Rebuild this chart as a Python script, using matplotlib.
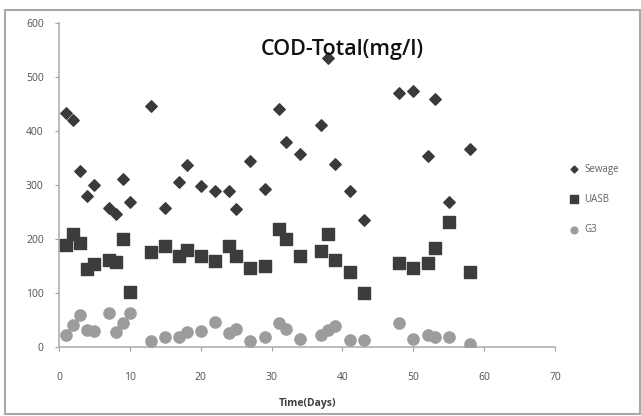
import matplotlib.pyplot as plt
from matplotlib.patches import Rectangle

# data
sewage_days = [1, 2, 3, 4, 5, 7, 8, 9, 10, 13, 15, 17, 18, 20, 22, 24, 25, 27, 29, 31, 32, 34, 37, 38,
               39, 41, 43, 48, 50, 52, 53, 55, 58]
sewage_cod = [434, 420, 326, 280, 299, 257, 246, 311, 268, 446, 257, 306, 336, 298, 289, 289, 255, 344,
              293, 441, 379, 357, 411, 535, 338, 289, 235, 470, 473, 354, 459, 269, 367]

uasb_days = [1, 2, 3, 4, 5, 7, 8, 9, 10, 13, 15, 17, 18, 20, 22, 24, 25, 27, 29, 31, 32, 34, 37, 38,
             39, 41, 43, 48, 50, 52, 53, 55, 58]
uasb_cod = [188, 210, 193, 144, 153, 161, 158, 199, 101, 175, 186, 169, 180, 169, 159, 187, 169, 146,
            150, 218, 200, 169, 178, 210, 161, 138, 99, 155, 146, 156, 183, 231, 138]

g3_days = [1, 2, 3, 4, 5, 7, 8, 9, 10, 13, 15, 17, 18, 20, 22, 24, 25, 27, 29, 31, 32, 34, 37, 38,
           39, 41, 43, 48, 50, 52, 53, 55, 58]
g3_cod = [22, 41, 59, 31, 30, 62, 27, 44, 62, 11, 19, 19, 27, 30, 46, 25, 33, 11, 19, 45, 33, 15, 22,
          31, 38, 13, 13, 44, 14, 22, 19, 19, 6]

x_ticks = [0, 10, 20, 30, 40, 50, 60, 70]
y_ticks = [0, 100, 200, 300, 400, 500, 600]

plt.rcParams['font.family'] = ['Open Sans', 'DejaVu Sans']

fig = plt.figure(figsize=(6.41, 4.16), dpi=100)
ax = fig.add_axes([0.092, 0.166, 0.774, 0.779])

ax.scatter(sewage_days, sewage_cod, marker='D', s=34, color='#3a3a3a', label='Sewage', zorder=3)
ax.scatter(uasb_days, uasb_cod, marker='s', s=78, color='#3c3c3c', label='UASB', zorder=3)
ax.scatter(g3_days, g3_cod, marker='o', s=65, color='#9c9c9c', label='G3', zorder=3)

ax.set_xlim(0, 70)
ax.set_ylim(0, 600)
ax.set_xticks(x_ticks)
ax.set_yticks(y_ticks)
ax.tick_params(colors='#a0a0a0', labelcolor='#505050', labelsize=7.5, length=3, direction='out')
ax.tick_params(axis='x', pad=15)
ax.tick_params(axis='y', pad=8)
for side in ['top', 'right']:
	ax.spines[side].set_visible(False)
for side in ['left', 'bottom']:
	ax.spines[side].set_color('#b0b0b0')
	ax.spines[side].set_linewidth(1.2)

ax.set_xlabel('Time(Days)', fontsize=7.5, fontweight='bold', color='#404040', labelpad=11)
fig.text(0.534, 0.882, 'COD-Total(mg/l)', fontsize=15.5, fontweight='semibold',
         ha='center', va='center', color='#111111', zorder=1)

ax.legend(loc='center left', bbox_to_anchor=(1.0, 0.455), frameon=False, fontsize=7,
          labelcolor='#606060', handletextpad=0.1, labelspacing=2.0, markerscale=0.6)

fig.patches.append(Rectangle((0.008, 0.005), 0.99, 0.97, transform=fig.transFigure,
                             fill=False, edgecolor='#a8a8a8', linewidth=1.5))

fig.savefig('out.png', dpi=100)
